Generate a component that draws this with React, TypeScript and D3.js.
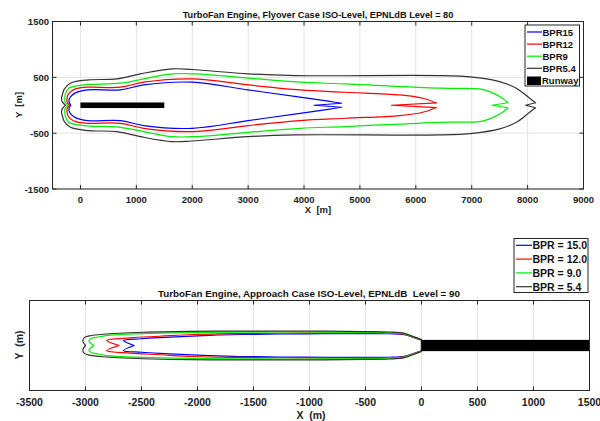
import React from 'react';
import * as d3 from 'd3';

// contour half-profiles: [x (m), half-width (m)], front notch first, tail last
const flyBPR15: [number, number][] = [[-173, 0], [-200, 50], [-205, 95], [-179, 150], [-89, 221], [130, 275], [714, 275], [1130, 364], [1995, 413], [3000, 275], [3929, 144], [4464, 68], [4673, 36]];
const flyBPR12: [number, number][] = [[-196, 0], [-235, 50], [-241, 113], [-225, 185], [-180, 240], [-89, 293], [120, 323], [714, 323], [1130, 413], [1995, 472], [3000, 364], [3929, 275], [4732, 233], [5714, 185], [6125, 126], [6370, 41]];
const flyBPR9: [number, number][] = [[-220, 0], [-275, 60], [-280, 125], [-268, 203], [-209, 305], [59, 364], [714, 395], [1130, 472], [1638, 562], [2054, 562], [3000, 485], [3929, 413], [4732, 382], [6429, 305], [7143, 293], [7321, 244], [7554, 126], [7648, 45]];
const flyBPR54: [number, number][] = [[-268, 0], [-325, 60], [-339, 125], [-320, 200], [-290, 290], [-179, 395], [148, 454], [655, 472], [1071, 562], [1638, 652], [1995, 640], [3000, 562], [3839, 531], [6429, 531], [7018, 503], [7500, 424], [7798, 305], [8036, 126], [8143, 45]];
const flyTailNotch = [4179, 5566, 7363, 7964];

const appBPR15: [number, number][] = [[-2565, 0], [-2661, 45], [-2500, 60], [-2339, 70], [-1893, 90], [-1625, 98], [-1030, 104], [-500, 106], [-286, 105], [-152, 97], [-60, 68], [0, 48]];
const appBPR12: [number, number][] = [[-2700, 0], [-2810, 45], [-2600, 68], [-2339, 82], [-2042, 98], [-1625, 106], [-1030, 110], [-500, 110], [-286, 108], [-152, 100], [-60, 70], [0, 49]];
const appBPR9: [number, number][] = [[-2925, 0], [-2969, 40], [-2950, 62], [-2904, 72], [-2786, 92], [-2488, 106], [-2042, 115], [-1625, 119], [-1030, 120], [-500, 117], [-286, 113], [-152, 104], [-60, 72], [0, 50]];
const appBPR54: [number, number][] = [[-3000, 0], [-3024, 40], [-3010, 70], [-2964, 85], [-2845, 100], [-2488, 118], [-2042, 126], [-1625, 128], [-1030, 128], [-500, 124], [-286, 120], [-152, 108], [-60, 75], [0, 52]];

const colors = ['#0000ff', '#ff0000', '#00ee00', '#333333'];
const flyLabels = ['BPR15', 'BPR12', 'BPR9', 'BPR5.4'];
const appLabels = ['BPR = 15.0', 'BPR = 12.0', 'BPR = 9.0', 'BPR = 5.4'];
const flyXTicks = [0, 1000, 2000, 3000, 4000, 5000, 6000, 7000, 8000, 9000];
const flyYTicks = [-1500, -500, 500, 1500];
const appXTicks = [-3500, -3000, -2500, -2000, -1500, -1000, -500, 0, 500, 1000, 1500];
const runway = [0, 1500, 50]; // x0, x1, half width

const font = '"Liberation Sans", Arial, sans-serif';

function contourPath(
  pts: [number, number][],
  x: d3.ScaleLinear<number, number>,
  y: d3.ScaleLinear<number, number>,
  tailNotch: number | null
) {
  const line = d3.line<[number, number]>().x(d => x(d[0])).y(d => y(d[1])).curve(d3.curveCatmullRom.alpha(0.5));
  const upper = pts;
  const lower = pts.slice().reverse().map(d => [d[0], -d[1]] as [number, number]);
  let p = line(upper) || '';
  if (tailNotch !== null) p += `L${x(tailNotch)},${y(0)}`;
  p += (line(lower) || '').replace(/^M/, 'L');
  return p + 'Z';
}

export default function App() {
  // top: flyover
  const fx = d3.scaleLinear().domain([-500, 9000]).range([52.5, 583.5]);
  const fy = d3.scaleLinear().domain([-1500, 1500]).range([189, 21.5]);
  const flyData = [flyBPR15, flyBPR12, flyBPR9, flyBPR54];
  // bottom: approach
  const ax = d3.scaleLinear().domain([-3500, 1500]).range([29.5, 589.5]);
  const ay = d3.scaleLinear().domain([-400, 400]).range([390.5, 300.5]);
  const appData = [appBPR15, appBPR12, appBPR9, appBPR54];
  const axisCol = '#262626';
  const gridCol = '#e3e3e3';

  return (
    <svg width={600} height={421} style={{ position: 'absolute', left: 0, top: 0, background: '#fff' }} fontFamily={font}>
      {/* ---------- Flyover ---------- */}
      <g>
        <rect x={fx(-500)} y={fy(1500)} width={fx(9000) - fx(-500)} height={fy(-1500) - fy(1500)} fill="#fff" />
        {flyXTicks.map(t => (
          <line key={'gx' + t} x1={fx(t)} x2={fx(t)} y1={fy(1500)} y2={fy(-1500)} stroke={gridCol} />
        ))}
        {flyYTicks.map(t => (
          <line key={'gy' + t} x1={fx(-500)} x2={fx(9000)} y1={fy(t)} y2={fy(t)} stroke={gridCol} />
        ))}
        {flyData.map((d, i) => (
          <path key={i} d={contourPath(d, fx, fy, flyTailNotch[i])} fill="none" stroke={colors[i]} strokeWidth={1.2} strokeLinejoin="round" />
        ))}
        <rect x={fx(runway[0])} y={fy(runway[2])} width={fx(runway[1]) - fx(runway[0])} height={fy(-runway[2]) - fy(runway[2])} fill="#000" />
        <rect x={fx(-500)} y={fy(1500)} width={fx(9000) - fx(-500)} height={fy(-1500) - fy(1500)} fill="none" stroke={axisCol} strokeWidth={1} />
        {flyXTicks.map(t => (
          <g key={'tx' + t}>
            <line x1={fx(t)} x2={fx(t)} y1={fy(-1500)} y2={fy(-1500) - 4} stroke={axisCol} />
            <line x1={fx(t)} x2={fx(t)} y1={fy(1500)} y2={fy(1500) + 4} stroke={axisCol} />
            <text x={fx(t)} y={203} textAnchor="middle" fontSize={9.5} fontWeight="bold" fill="#222">{t}</text>
          </g>
        ))}
        {flyYTicks.map(t => (
          <g key={'ty' + t}>
            <line x1={fx(-500)} x2={fx(-500) + 4} y1={fy(t)} y2={fy(t)} stroke={axisCol} />
            <line x1={fx(9000)} x2={fx(9000) - 4} y1={fy(t)} y2={fy(t)} stroke={axisCol} />
            <text x={49} y={fy(t) + 3.5} textAnchor="end" fontSize={9.5} fontWeight="bold" fill="#222">{t}</text>
          </g>
        ))}
        <text x={318} y={18} textAnchor="middle" fontSize={9.2} fontWeight="bold" fill="#111">TurboFan Engine, Flyover Case ISO-Level, EPNLdB Level = 80</text>
        <text x={318} y={213} textAnchor="middle" fontSize={9.5} fontWeight="bold" fill="#222" xmlSpace="preserve">X  [m]</text>
        <text transform="translate(22,105) rotate(-90)" textAnchor="middle" fontSize={9.5} fontWeight="bold" fill="#222" xmlSpace="preserve">Y  [m]</text>
        {/* legend */}
        <rect x={525} y={25} width={54.5} height={61} fill="#fff" stroke={axisCol} strokeWidth={1} />
        {flyLabels.map((l, i) => (
          <g key={l}>
            <line x1={527} x2={542} y1={32 + i * 12.1} y2={32 + i * 12.1} stroke={colors[i]} strokeWidth={1.2} />
            <text x={542.5} y={32 + i * 12.1 + 3.5} fontSize={9.5} fontWeight="bold" fill="#111">{l}</text>
          </g>
        ))}
        <rect x={527} y={76.5} width={14} height={8.5} fill="#000" />
        <text x={542} y={84} fontSize={9.5} fontWeight="bold" fill="#111">Runway</text>
      </g>

      {/* ---------- Approach ---------- */}
      <g>
        <rect x={ax(-3500)} y={ay(400)} width={ax(1500) - ax(-3500)} height={ay(-400) - ay(400)} fill="#fff" />
        {appXTicks.map(t => (
          <line key={'agx' + t} x1={ax(t)} x2={ax(t)} y1={ay(400)} y2={ay(-400)} stroke={gridCol} />
        ))}
        {appData.map((d, i) => (
          <path key={i} d={contourPath(d, ax, ay, null)} fill="none" stroke={colors[i]} strokeWidth={1.2} strokeLinejoin="round" />
        ))}
        <rect x={ax(runway[0])} y={ay(runway[2])} width={ax(runway[1]) - ax(runway[0])} height={ay(-runway[2]) - ay(runway[2])} fill="#000" />
        <rect x={ax(-3500)} y={ay(400)} width={ax(1500) - ax(-3500)} height={ay(-400) - ay(400)} fill="none" stroke={axisCol} strokeWidth={1} />
        {appXTicks.map(t => (
          <g key={'atx' + t}>
            <line x1={ax(t)} x2={ax(t)} y1={ay(-400)} y2={ay(-400) - 4} stroke={axisCol} />
            <line x1={ax(t)} x2={ax(t)} y1={ay(400)} y2={ay(400) + 4} stroke={axisCol} />
            <text x={ax(t)} y={406} textAnchor="middle" fontSize={10.5} fontWeight="bold" fill="#222">{t}</text>
          </g>
        ))}
        <text x={309} y={297} textAnchor="middle" fontSize={9.8} fontWeight="bold" fill="#111" xmlSpace="preserve">TurboFan Engine, Approach Case ISO-Level, EPNLdB  Level = 90</text>
        <text x={311} y={419} textAnchor="middle" fontSize={10.5} fontWeight="bold" fill="#222" xmlSpace="preserve">X  (m)</text>
        <text transform="translate(23,345) rotate(-90)" textAnchor="middle" fontSize={10.5} fontWeight="bold" fill="#222" xmlSpace="preserve">Y  (m)</text>
        {/* legend */}
        <rect x={514} y={238.5} width={74} height={54} fill="#fff" stroke={axisCol} strokeWidth={1} />
        {appLabels.map((l, i) => (
          <g key={l}>
            <line x1={516} x2={532} y1={245.3 + i * 13.8} y2={245.3 + i * 13.8} stroke={colors[i]} strokeWidth={1.2} />
            <text x={532.5} y={245.3 + i * 13.8 + 4} fontSize={10.5} fontWeight="bold" fill="#111">{l}</text>
          </g>
        ))}
      </g>
    </svg>
  );
}
